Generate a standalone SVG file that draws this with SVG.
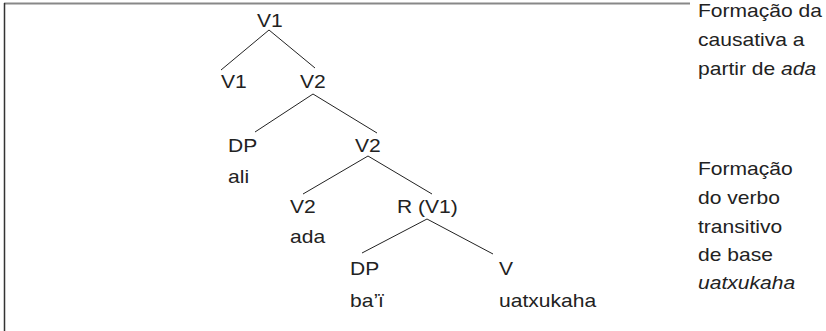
<svg xmlns="http://www.w3.org/2000/svg" width="826" height="331" viewBox="0 0 826 331">
  <style>
    text { font-family: "Liberation Sans", Arial, sans-serif; font-size: 18px; fill: #222; }
    .it { font-style: italic; }
    .branch { stroke: #222; stroke-width: 1; fill: none; }
  </style>
  <rect width="826" height="331" fill="#fff"/>
  <!-- frame -->
  <line x1="4" y1="3.5" x2="690" y2="3.5" stroke="#888" stroke-width="2"/>
  <line x1="4.5" y1="3" x2="4.5" y2="331" stroke="#333" stroke-width="1.5"/>

  <g id="connectors">
    <line class="branch" x1="269" y1="30" x2="221" y2="70"/>
    <line class="branch" x1="269" y1="30" x2="315" y2="68"/>
    <line class="branch" x1="313" y1="94" x2="255" y2="132"/>
    <line class="branch" x1="313" y1="94" x2="377" y2="133"/>
    <line class="branch" x1="368" y1="156" x2="303" y2="194"/>
    <line class="branch" x1="368" y1="156" x2="432" y2="194"/>
    <line class="branch" x1="427" y1="219" x2="362" y2="253"/>
    <line class="branch" x1="427" y1="219" x2="493" y2="254"/>
  </g>

  <!-- labels are set in a slightly widened face: translate to the anchor, then stretch x -->
  <g id="n-v1-root"><text transform="translate(257 27) scale(1.17 1)">V1</text></g>
  <g id="n-v1-left"><text transform="translate(221 88) scale(1.17 1)">V1</text></g>
  <g id="n-v2-a"><text transform="translate(300 88) scale(1.17 1)">V2</text></g>
  <g id="n-dp-ali">
    <text transform="translate(228 152) scale(1.17 1)">DP</text>
    <text transform="translate(228 183) scale(1.17 1)">ali</text>
  </g>
  <g id="n-v2-b"><text transform="translate(355 152) scale(1.17 1)">V2</text></g>
  <g id="n-v2-ada">
    <text transform="translate(290 213) scale(1.17 1)">V2</text>
    <text transform="translate(290 243) scale(1.17 1)">ada</text>
  </g>
  <g id="n-r-v1"><text transform="translate(397 213) scale(1.17 1)">R (V1)</text></g>
  <g id="n-dp-bai">
    <text transform="translate(350 275) scale(1.17 1)">DP</text>
    <text transform="translate(350 307) scale(1.17 1)">ba’ï</text>
  </g>
  <g id="n-v-uatxukaha">
    <text transform="translate(499 275) scale(1.17 1)">V</text>
    <text transform="translate(499 307) scale(1.17 1)">uatxukaha</text>
  </g>

  <g id="note-causative">
    <text transform="translate(698 17) scale(1.17 1)">Formação da</text>
    <text transform="translate(698 46) scale(1.17 1)">causativa a</text>
    <text transform="translate(698 75) scale(1.17 1)">partir de <tspan class="it">ada</tspan></text>
  </g>
  <g id="note-transitive">
    <text transform="translate(698 175) scale(1.17 1)">Formação</text>
    <text transform="translate(698 204) scale(1.17 1)">do verbo</text>
    <text transform="translate(698 233) scale(1.17 1)">transitivo</text>
    <text transform="translate(698 261) scale(1.17 1)">de base</text>
    <text transform="translate(698 289) scale(1.17 1)" class="it">uatxukaha</text>
  </g>
</svg>
